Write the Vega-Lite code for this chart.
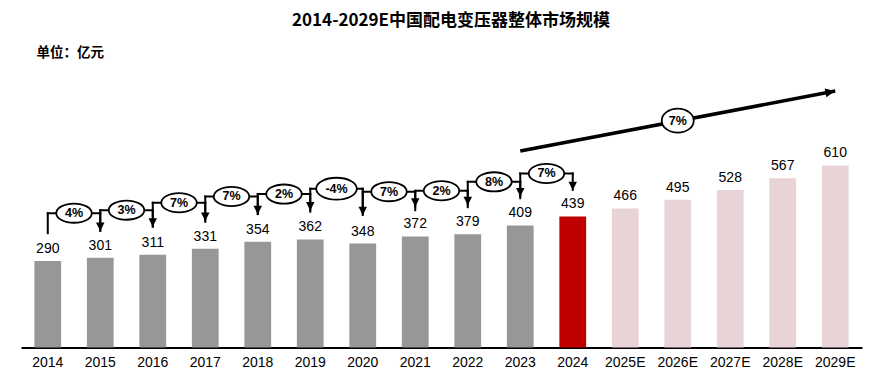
{
  "$schema": "https://vega.github.io/schema/vega-lite/v6.json",
  "width": 841,
  "height": 300,
  "autosize": {"type": "none"},
  "padding": {"left": 21, "top": 47.5, "right": 21, "bottom": 33.5},
  "background": "white",
  "title": {
    "text": "2014-2029E中国配电变压器整体市场规模",
    "font": "Noto Sans CJK SC",
    "fontSize": 17,
    "fontWeight": "bold",
    "color": "#000000",
    "anchor": "middle",
    "dx": 9.5,
    "offset": 16
  },
  "config": {"view": {"stroke": null}},
  "datasets": {
    "bars": [
      {"year": "2014", "value": 290, "type": "历史"},
      {"year": "2015", "value": 301, "type": "历史"},
      {"year": "2016", "value": 311, "type": "历史"},
      {"year": "2017", "value": 331, "type": "历史"},
      {"year": "2018", "value": 354, "type": "历史"},
      {"year": "2019", "value": 362, "type": "历史"},
      {"year": "2020", "value": 348, "type": "历史"},
      {"year": "2021", "value": 372, "type": "历史"},
      {"year": "2022", "value": 379, "type": "历史"},
      {"year": "2023", "value": 409, "type": "历史"},
      {"year": "2024", "value": 439, "type": "当年"},
      {"year": "2025E", "value": 466, "type": "预测"},
      {"year": "2026E", "value": 495, "type": "预测"},
      {"year": "2027E", "value": 528, "type": "预测"},
      {"year": "2028E", "value": 567, "type": "预测"},
      {"year": "2029E", "value": 610, "type": "预测"}
    ],
    "growth": [
      {"from": "2014", "to": "2015", "start": 383, "level": 450, "end": 391, "label": "4%"},
      {"from": "2015", "to": "2016", "start": 391, "level": 460, "end": 405, "label": "3%"},
      {"from": "2016", "to": "2017", "start": 405, "level": 485, "end": 425, "label": "7%"},
      {"from": "2017", "to": "2018", "start": 421, "level": 506, "end": 447, "label": "7%"},
      {"from": "2018", "to": "2019", "start": 447, "level": 514, "end": 460, "label": "2%"},
      {"from": "2019", "to": "2020", "start": 455, "level": 532, "end": 444, "label": "-4%"},
      {"from": "2020", "to": "2021", "start": 450, "level": 522, "end": 472, "label": "7%"},
      {"from": "2021", "to": "2022", "start": 460, "level": 525, "end": 477, "label": "2%"},
      {"from": "2022", "to": "2023", "start": 470, "level": 555, "end": 507, "label": "8%"},
      {"from": "2023", "to": "2024", "start": 500, "level": 583, "end": 528, "label": "7%"}
    ],
    "cagr": [
      {"from": "2023", "to": "2029E", "y1": 658, "y2": 859, "mid": "2026E", "ym": 760, "label": "7%"}
    ]
  },
  "layer": [
    {
      "data": {"name": "bars"},
      "mark": {"type": "bar"},
      "encoding": {
        "x": {
          "field": "year", "type": "nominal", "sort": null,
          "scale": {"type": "band", "paddingInner": 0.49, "paddingOuter": 0.255,
            "domain": ["2014","2015","2016","2017","2018","2019","2020","2021","2022","2023","2024","2025E","2026E","2027E","2028E","2029E"]},
          "axis": {"title": null, "labelAngle": 0, "labelFont": "Liberation Sans", "labelFontSize": 14, "labelColor": "#000000",
            "labelPadding": 7.5, "ticks": false, "domainColor": "#000000", "domainWidth": 2, "grid": false}
        },
        "y": {"field": "value", "type": "quantitative", "scale": {"domain": [0, 1005], "nice": false, "zero": true}, "axis": null},
        "color": {"field": "type", "type": "nominal",
          "scale": {"domain": ["历史", "当年", "预测"], "range": ["#979797", "#C00000", "#E8D3D6"]}, "legend": null}
      }
    },
    {
      "data": {"name": "bars"},
      "mark": {"type": "text", "baseline": "alphabetic", "dy": -8, "font": "Liberation Sans", "fontSize": 14, "color": "#000000"},
      "encoding": {
        "x": {"field": "year", "type": "nominal", "sort": null},
        "y": {"field": "value", "type": "quantitative"},
        "text": {"field": "value", "type": "quantitative"}
      }
    },
    {
      "data": {"name": "growth"},
      "mark": {"type": "rule", "strokeWidth": 2, "color": "#000000", "strokeCap": "square"},
      "encoding": {
        "x": {"field": "from", "type": "nominal", "sort": null},
        "y": {"field": "start", "type": "quantitative"},
        "y2": {"field": "level"}
      }
    },
    {
      "data": {"name": "growth"},
      "mark": {"type": "rule", "strokeWidth": 2, "color": "#000000", "strokeCap": "square"},
      "encoding": {
        "x": {"field": "from", "type": "nominal", "sort": null},
        "x2": {"field": "to"},
        "y": {"field": "level", "type": "quantitative"}
      }
    },
    {
      "data": {"name": "growth"},
      "mark": {"type": "rule", "strokeWidth": 2, "color": "#000000", "strokeCap": "square"},
      "encoding": {
        "x": {"field": "to", "type": "nominal", "sort": null},
        "y": {"field": "level", "type": "quantitative"},
        "y2": {"field": "end"}
      }
    },
    {
      "data": {"name": "growth"},
      "mark": {"type": "point", "shape": "M-1,-1L1,-1L0,1Z", "filled": true, "color": "#000000", "opacity": 1, "size": 72},
      "encoding": {
        "x": {"field": "to", "type": "nominal", "sort": null},
        "y": {"field": "end", "type": "quantitative"},
        "yOffset": {"value": -4}
      }
    },
    {
      "data": {"name": "growth"},
      "mark": {"type": "point", "shape": "M-1,0A1,0.54,0,1,1,1,0A1,0.54,0,1,1,-1,0Z", "filled": true, "fill": "#FFFFFF", "stroke": "#000000", "strokeWidth": 1.8, "opacity": 1},
      "encoding": {
        "x": {"field": "from", "type": "nominal", "sort": null, "bandPosition": 1.48},
        "y": {"field": "level", "type": "quantitative"},
        "size": {"condition": {"test": "datum.label == '-4%'", "value": 1650}, "value": 1260}
      }
    },
    {
      "data": {"name": "growth"},
      "mark": {"type": "text", "font": "Liberation Sans", "fontSize": 12.5, "fontWeight": "bold", "color": "#000000", "baseline": "middle", "align": "center"},
      "encoding": {
        "x": {"field": "from", "type": "nominal", "sort": null, "bandPosition": 1.48},
        "y": {"field": "level", "type": "quantitative"},
        "text": {"field": "label"}
      }
    },
    {
      "data": {"name": "cagr"},
      "mark": {"type": "rule", "strokeWidth": 3.5, "color": "#000000"},
      "encoding": {
        "x": {"field": "from", "type": "nominal", "sort": null},
        "x2": {"field": "to"},
        "y": {"field": "y1", "type": "quantitative"},
        "y2": {"field": "y2"}
      }
    },
    {
      "data": {"name": "cagr"},
      "mark": {"type": "point", "shape": "M-2.2,-1L0,0L-2.2,1Z", "filled": true, "color": "#000000", "opacity": 1, "size": 81, "angle": 349.25},
      "encoding": {
        "x": {"field": "to", "type": "nominal", "sort": null},
        "y": {"field": "y2", "type": "quantitative"}
      }
    },
    {
      "data": {"name": "cagr"},
      "mark": {"type": "point", "shape": "M-1,0A1,0.75,0,1,1,1,0A1,0.75,0,1,1,-1,0Z", "filled": true, "fill": "#FFFFFF", "stroke": "#000000", "strokeWidth": 1.8, "opacity": 1, "size": 1024},
      "encoding": {
        "x": {"field": "mid", "type": "nominal", "sort": null},
        "y": {"field": "ym", "type": "quantitative"}
      }
    },
    {
      "data": {"name": "cagr"},
      "mark": {"type": "text", "font": "Liberation Sans", "fontSize": 12.5, "fontWeight": "bold", "color": "#000000", "baseline": "middle", "align": "center"},
      "encoding": {
        "x": {"field": "mid", "type": "nominal", "sort": null},
        "y": {"field": "ym", "type": "quantitative"},
        "text": {"field": "label"}
      }
    },
    {
      "data": {"values": [{"unit": "单位：亿元"}]},
      "mark": {"type": "text", "align": "left", "baseline": "middle", "font": "Noto Sans CJK SC", "fontSize": 13.5, "fontWeight": "bold", "color": "#000000", "dx": 2},
      "encoding": {
        "x": {"datum": "2014", "type": "nominal", "bandPosition": 0},
        "y": {"datum": 988, "type": "quantitative"},
        "text": {"field": "unit"}
      }
    }
  ]
}
